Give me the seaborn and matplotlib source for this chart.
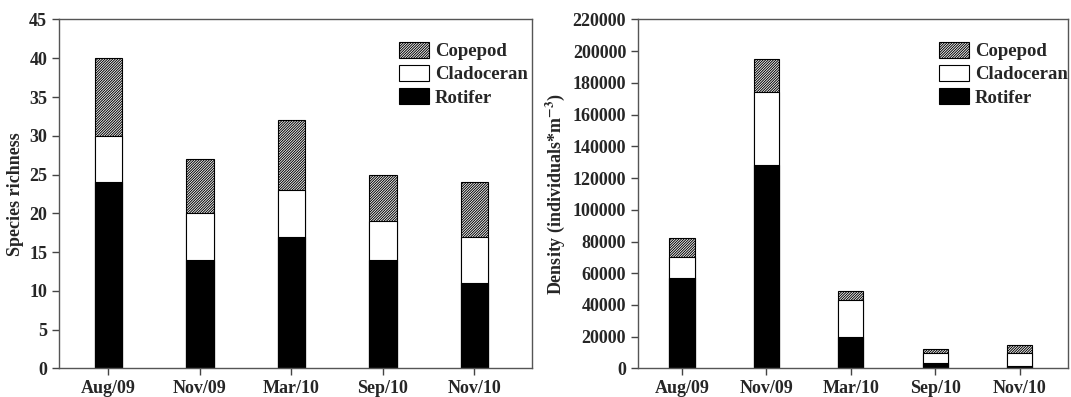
import matplotlib
matplotlib.use("Agg")
import matplotlib.pyplot as plt
import matplotlib.patches as mpatches
import seaborn as sns
import pandas as pd

# sampling dates
dates = ["Aug/09", "Nov/09", "Mar/10", "Sep/10", "Nov/10"]

# species richness per group
rich_rotifer = [24, 14, 17, 14, 11]
rich_cladoceran = [6, 6, 6, 5, 6]
rich_copepod = [10, 7, 9, 6, 7]

# density (individuals*m^-3) per group
dens_rotifer = [57000, 128000, 20000, 3500, 1500]
dens_cladoceran = [13000, 46500, 23000, 6000, 8000]
dens_copepod = [12000, 20500, 6000, 3000, 5500]

sns.set_style("ticks")
plt.rcParams['font.family'] = ['Liberation Serif', 'DejaVu Serif']
plt.rcParams['font.weight'] = 'bold'
plt.rcParams['axes.labelweight'] = 'bold'
plt.rcParams['mathtext.fontset'] = 'stix'
plt.rcParams['mathtext.default'] = 'bf'
plt.rcParams['hatch.color'] = '#707070'
plt.rcParams['hatch.linewidth'] = 0.7

HATCH = "/" * 13


def stacked(ax, rot, cla, cop, ylim, step, ylabel, xlim, leg_anchor):
    df = pd.DataFrame({"Date": dates, "Rotifer": rot, "Cladoceran": cla, "Copepod": cop})
    df["c2"] = df["Rotifer"] + df["Cladoceran"]
    df["c3"] = df["c2"] + df["Copepod"]
    sns.barplot(data=df, x="Date", y="c3", ax=ax, color="white", edgecolor="black",
                linewidth=0.8, width=0.3, hatch=HATCH, saturation=1)
    sns.barplot(data=df, x="Date", y="c2", ax=ax, color="white", edgecolor="black",
                linewidth=0.8, width=0.3, saturation=1)
    sns.barplot(data=df, x="Date", y="Rotifer", ax=ax, color="black", edgecolor="black",
                linewidth=0.8, width=0.3, saturation=1)
    ax.set_ylim(*ylim)
    ax.set_yticks(range(ylim[0], ylim[1] + 1, step))
    ax.set_xlim(*xlim)
    ax.set_xlabel("")
    ax.set_ylabel(ylabel, fontsize=13)
    ax.tick_params(axis="both", labelsize=13, direction="out", length=5, width=1, color="#444444")
    for lab in ax.get_xticklabels() + ax.get_yticklabels():
        lab.set_fontweight("bold")
    for s in ax.spines.values():
        s.set_visible(True)
        s.set_color("#555555")
        s.set_linewidth(1)
    handles = [
        mpatches.Patch(facecolor="white", edgecolor="black", hatch=HATCH, linewidth=0.8, label="Copepod"),
        mpatches.Patch(facecolor="white", edgecolor="black", linewidth=0.8, label="Cladoceran"),
        mpatches.Patch(facecolor="black", edgecolor="black", linewidth=0.8, label="Rotifer"),
    ]
    ax.legend(handles=handles, loc="upper right", frameon=False,
              handlelength=1.6, handleheight=0.95, handletextpad=0.3, labelspacing=0.25,
              bbox_to_anchor=leg_anchor, prop={"weight": "bold", "size": 13.5})


fig = plt.figure(figsize=(10.71, 3.97), dpi=100)
ax1 = fig.add_axes([0.0551, 0.072, 0.4416, 0.879])
ax2 = fig.add_axes([0.5957, 0.072, 0.4013, 0.879])

stacked(ax1, rich_rotifer, rich_cladoceran, rich_copepod, (0, 45), 5,
        "Species richness", (-0.54, 4.63), (1.027, 0.985))
stacked(ax2, dens_rotifer, dens_cladoceran, dens_copepod, (0, 220000), 20000,
        r"Density (individuals*m$^{-3}$)", (-0.52, 4.57), (1.039, 0.985))

fig.savefig("out.png", dpi=100)
